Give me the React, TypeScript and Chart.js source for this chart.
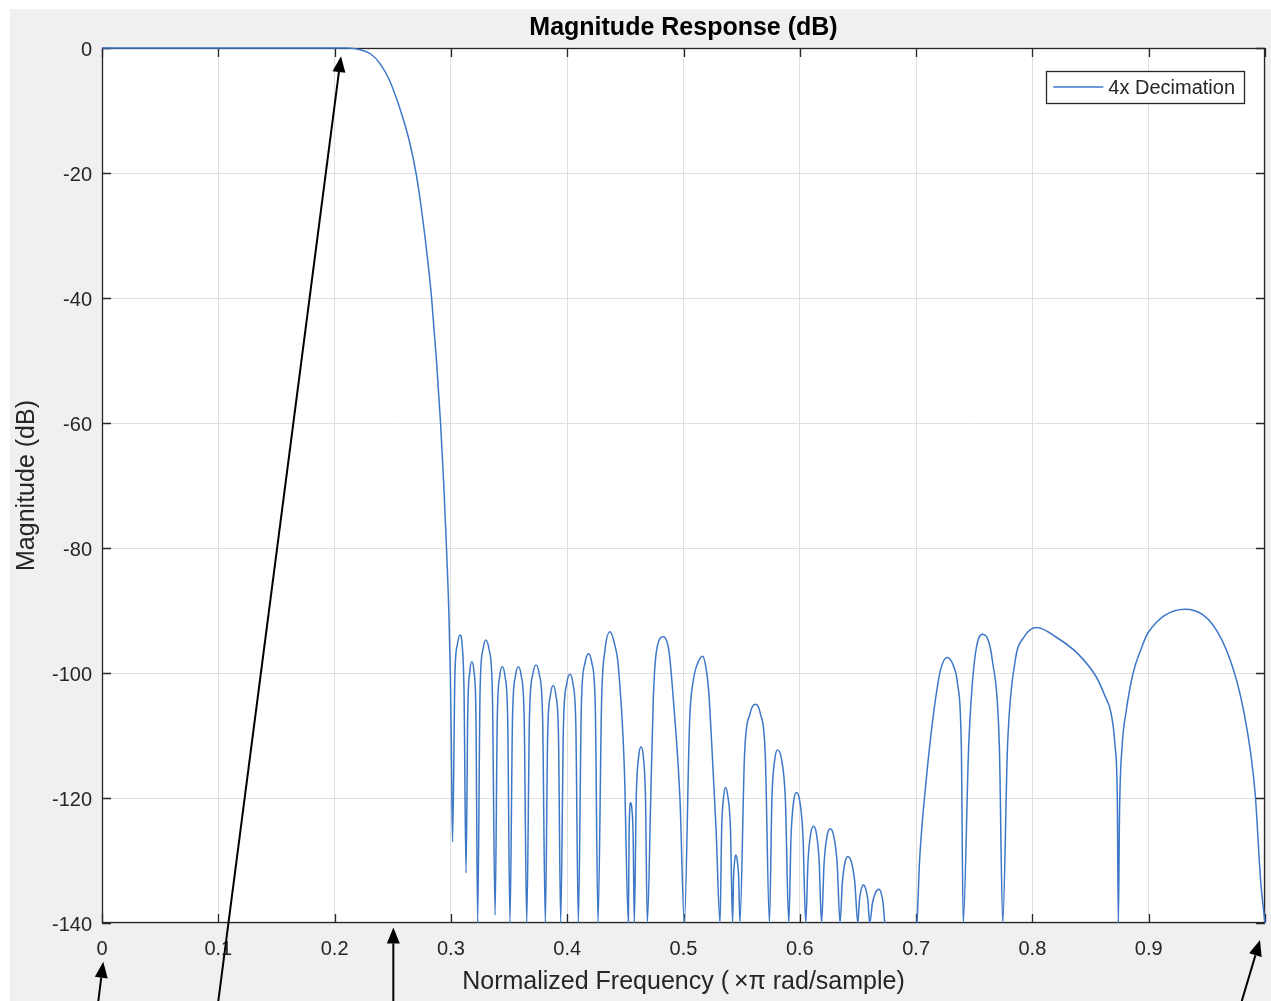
import React, { useEffect, useRef } from 'react';
import { Chart, registerables } from 'chart.js';

Chart.register(...registerables);

// ---------- data ----------
// normalized frequency (x pi rad/sample)
const freq: number[] = [
  // passband + transition
  0, 0.1, 0.2, 0.21, 0.2175, 0.2313, 0.239, 0.2468, 0.2567, 0.2644, 0.27, 0.2741, 0.2776, 0.2807, 0.2834, 0.2876, 0.2911, 0.2939, 0.2962, 0.2982, 0.2995, 0.3003, 0.3014,
  // stopband lobes
  0.3035, 0.3056, 0.3078, 0.3096, 0.3113, 0.313,
  0.3145, 0.3163, 0.318, 0.3198, 0.3215, 0.323,
  0.3251, 0.3276, 0.33, 0.3328, 0.3356, 0.338,
  0.3399, 0.342, 0.3442, 0.3465, 0.3488, 0.3508,
  0.353, 0.3555, 0.358, 0.3605, 0.363, 0.3652,
  0.3676, 0.3704, 0.3732, 0.376, 0.3788, 0.3812,
  0.3832, 0.3856, 0.388, 0.3902, 0.3925, 0.3944,
  0.3968, 0.3996, 0.4024, 0.4049, 0.4074, 0.4096,
  0.4122, 0.4153, 0.4184, 0.4212, 0.4241, 0.4265,
  0.4296, 0.4325, 0.4368, 0.4405, 0.444, 0.4491, 0.4526,
  0.4532, 0.4538, 0.4545, 0.4556, 0.4567, 0.4577,
  0.4594, 0.4615, 0.4635, 0.4654, 0.4673, 0.4689,
  0.4718, 0.474, 0.4769, 0.4827, 0.4875, 0.4913, 0.497, 0.5007,
  0.5053, 0.5085, 0.5125, 0.5164, 0.519, 0.5215, 0.5244, 0.528, 0.5314,
  0.5328, 0.5345, 0.5361, 0.5382, 0.5404, 0.5422,
  0.543, 0.544, 0.545, 0.5462, 0.5475, 0.5485,
  0.5525, 0.5572, 0.5619, 0.5661, 0.5703, 0.5739,
  0.576, 0.5785, 0.5809, 0.5843, 0.5876, 0.5905,
  0.5925, 0.5948, 0.5971, 0.5999, 0.6027, 0.6051,
  0.6071, 0.6095, 0.6118, 0.6142, 0.6166, 0.6187,
  0.6209, 0.6235, 0.6261, 0.6291, 0.6321, 0.6346,
  0.6366, 0.639, 0.6413, 0.6443, 0.6473, 0.6499,
  0.6513, 0.653, 0.6547, 0.6566, 0.6585, 0.6601,
  0.6625, 0.6652, 0.668, 0.6698, 0.6716, 0.6731,
  0.687,
  0.7007, 0.703, 0.7087, 0.715, 0.721, 0.7268, 0.732, 0.7357, 0.7389, 0.7405,
  0.7452, 0.75, 0.757, 0.7659, 0.7716, 0.7745,
  0.7786, 0.7849, 0.7929, 0.804, 0.8199, 0.839, 0.8548, 0.862, 0.8676, 0.871, 0.873, 0.8739,
  0.8749, 0.8771, 0.8804, 0.8866, 0.8938, 0.8993, 0.9311, 0.9629, 0.982, 0.9915, 0.9962, 1.0,
];

// magnitude (dB)
const magDb: number[] = [
  0, 0, 0, 0, -0.1, -1.0, -2.5, -5.0, -10.0, -15.0, -20.0, -25.0, -30.0, -35.0, -40.0, -50.0, -60.0, -70.0, -80.0, -90.0, -100.0, -110.0, -127.0,
  -100.0, -95.4, -93.9, -95.4, -103.0, -132.0,
  -106.2, -99.7, -98.2, -99.7, -106.2, -140,
  -102.7, -96.2, -94.7, -96.2, -102.7, -138.7,
  -107.0, -100.5, -99.0, -100.5, -107.0, -140,
  -107.0, -100.5, -99.0, -100.5, -107.0, -140,
  -106.7, -100.2, -98.7, -100.2, -106.7, -140,
  -110.0, -103.5, -102.0, -103.5, -110.0, -140,
  -108.2, -101.7, -100.2, -101.7, -108.2, -140,
  -104.9, -98.4, -96.9, -98.4, -104.9, -140,
  -104.3, -96.3, -93.4, -95.2, -99.0, -115.0, -140,
  -126.0, -121.7, -120.7, -121.7, -126.0, -140,
  -119.8, -113.3, -111.8, -113.3, -119.8, -140,
  -120.3, -104.3, -96.3, -94.2, -96.5, -104.3, -120.3, -140,
  -107.5, -101.1, -98.3, -97.3, -98.8, -102.5, -111.8, -125.0, -140,
  -125.0, -119.8, -118.3, -119.8, -125.0, -140,
  -133.0, -130.0, -129.1, -130.0, -133.0, -140,
  -113.0, -106.5, -105.0, -106.5, -113.0, -140,
  -120.3, -113.8, -112.3, -113.8, -120.3, -140,
  -126.0, -120.4, -119.1, -120.4, -126.0, -140,
  -130.0, -125.6, -124.5, -125.6, -130.0, -140,
  -130.4, -126.0, -124.9, -126.0, -130.4, -140,
  -133.5, -130.2, -129.4, -130.2, -133.5, -140,
  -136.3, -134.5, -133.9, -134.5, -136.3, -140,
  -136.8, -135.1, -134.6, -135.1, -136.8, -140,
  -150,
  -140, -130.0, -117.1, -106.5, -99.5, -97.5, -98.8, -101.8, -111.8, -140,
  -111.8, -98.4, -93.8, -98.4, -111.8, -140,
  -111.8, -98.4, -94.2, -92.7, -94.2, -96.9, -100.6, -103.5, -106.4, -111.5, -120.0, -140,
  -122.4, -111.8, -106.4, -100.0, -96.0, -93.6, -89.8, -94.7, -106.4, -119.2, -133.1, -140,
];

const xTickValues: number[] = [0, 0.1, 0.2, 0.3, 0.4, 0.5, 0.6, 0.7, 0.8, 0.9, 1.0];
const xTickLabels: string[] = ['0', '0.1', '0.2', '0.3', '0.4', '0.5', '0.6', '0.7', '0.8', '0.9', ''];
const yTickValues: number[] = [-140, -120, -100, -80, -60, -40, -20, 0];
const yTickLabels: string[] = ['-140', '-120', '-100', '-80', '-60', '-40', '-20', '0'];

const chartTitle = 'Magnitude Response (dB)';
const xAxisLabel = 'Normalized Frequency (\u2009\u00D7\u03C0 rad/sample)';
const yAxisLabel = 'Magnitude (dB)';
const seriesName = '4x Decimation';

// annotation arrows, in data units [freq, dB] (tails below the axis)
const arrowTails: [number, number][] = [[-0.0032, -152.5], [0.1, -152.5], [0.2505, -152.5], [0.98, -152.5]];
const arrowTips: [number, number][] = [[0.0011, -146.2], [0.2055, -1.3], [0.2505, -140.7], [0.9957, -142.7]];

const FONT = '"Liberation Sans", Arial, Helvetica, sans-serif';
const AXIS_COLOR = '#262626';
const LINE_COLOR = '#3d78c8';

const figurePlugin = {
  id: 'figurePlugin',
  beforeDraw(chart: any) {
    const { ctx, chartArea: ca, width, height } = chart;
    ctx.save();
    ctx.fillStyle = '#f0f0f0';
    ctx.fillRect(0, 0, width, height);
    ctx.fillStyle = '#ffffff';
    ctx.fillRect(ca.left, ca.top, ca.right - ca.left, ca.bottom - ca.top);
    ctx.restore();
  },
  beforeDatasetsDraw(chart: any) {
    const { ctx, chartArea: ca, scales } = chart;
    const tl = 9;
    ctx.save();
    ctx.strokeStyle = AXIS_COLOR;
    ctx.lineWidth = 1.3;
    ctx.strokeRect(ca.left + 0.5, ca.top + 0.5, ca.right - ca.left - 1, ca.bottom - ca.top - 1);
    ctx.beginPath();
    xTickValues.forEach((v) => {
      const px = Math.round(scales.x.getPixelForValue(v)) + 0.5;
      ctx.moveTo(px, ca.bottom);
      ctx.lineTo(px, ca.bottom - tl);
      ctx.moveTo(px, ca.top);
      ctx.lineTo(px, ca.top + tl);
    });
    yTickValues.forEach((v) => {
      const py = Math.round(scales.y.getPixelForValue(v)) + 0.5;
      ctx.moveTo(ca.left, py);
      ctx.lineTo(ca.left + tl, py);
      ctx.moveTo(ca.right, py);
      ctx.lineTo(ca.right - tl, py);
    });
    ctx.stroke();
    ctx.restore();
  },
  afterDraw(chart: any) {
    const { ctx, chartArea: ca, scales } = chart;
    ctx.save();
    // title
    ctx.fillStyle = '#000000';
    ctx.font = `bold 25px ${FONT}`;
    ctx.textAlign = 'center';
    ctx.textBaseline = 'middle';
    ctx.fillText(chartTitle, (ca.left + ca.right) / 2, ca.top - 20);

    // legend
    ctx.font = `20px ${FONT}`;
    const tw = ctx.measureText(seriesName).width;
    const bw = 7 + 50 + 5 + tw + 9;
    const bh = 32;
    const bx = ca.right - 21 - bw;
    const by = ca.top + 23;
    ctx.fillStyle = '#ffffff';
    ctx.fillRect(bx, by, bw, bh);
    ctx.strokeStyle = AXIS_COLOR;
    ctx.lineWidth = 1.3;
    ctx.strokeRect(Math.round(bx) + 0.5, by + 0.5, Math.round(bw), bh);
    ctx.strokeStyle = LINE_COLOR;
    ctx.lineWidth = 1.5;
    ctx.beginPath();
    ctx.moveTo(bx + 7, by + bh / 2);
    ctx.lineTo(bx + 57, by + bh / 2);
    ctx.stroke();
    ctx.fillStyle = AXIS_COLOR;
    ctx.textAlign = 'left';
    ctx.textBaseline = 'middle';
    ctx.fillText(seriesName, bx + 62, by + bh / 2 + 1);

    // arrows
    ctx.strokeStyle = '#000000';
    ctx.fillStyle = '#000000';
    ctx.lineWidth = 2;
    arrowTails.forEach((t, i) => {
      const tip = arrowTips[i];
      const x0 = scales.x.getPixelForValue(t[0]);
      const y0 = scales.y.getPixelForValue(t[1]);
      const x1 = scales.x.getPixelForValue(tip[0]);
      const y1 = scales.y.getPixelForValue(tip[1]);
      const ang = Math.atan2(y1 - y0, x1 - x0);
      const hl = 16;
      const hw = 6.5;
      const bxp = x1 - hl * Math.cos(ang);
      const byp = y1 - hl * Math.sin(ang);
      ctx.beginPath();
      ctx.moveTo(x0, y0);
      ctx.lineTo(bxp, byp);
      ctx.stroke();
      ctx.beginPath();
      ctx.moveTo(x1, y1);
      ctx.lineTo(bxp + hw * Math.sin(ang), byp - hw * Math.cos(ang));
      ctx.lineTo(bxp - hw * Math.sin(ang), byp + hw * Math.cos(ang));
      ctx.closePath();
      ctx.fill();
    });
    ctx.restore();
  },
};

export default function App() {
  const canvasRef = useRef<HTMLCanvasElement | null>(null);

  useEffect(() => {
    if (!canvasRef.current) return;
    const points = freq.map((f, i) => ({ x: f, y: magDb[i] }));
    const chart = new Chart(canvasRef.current, {
      type: 'line',
      data: {
        datasets: [
          {
            label: seriesName,
            data: points,
            borderColor: LINE_COLOR,
            borderWidth: 1.5,
            pointRadius: 0,
            fill: false,
            cubicInterpolationMode: 'monotone',
            clip: { left: 0, right: 2, top: 2, bottom: 0 } as any,
          },
        ],
      },
      options: {
        animation: false,
        responsive: false,
        devicePixelRatio: 1,
        events: [],
        layout: { padding: { top: 39, right: 6, left: 0, bottom: 0 } },
        plugins: {
          legend: { display: false },
          tooltip: { enabled: false },
          title: { display: false },
        },
        scales: {
          x: {
            type: 'linear',
            min: 0,
            max: 1,
            afterBuildTicks: (s: any) => {
              s.ticks = xTickValues.map((v) => ({ value: v }));
            },
            afterFit: (s: any) => {
              s.height = 78;
              s.paddingLeft = 0;
              s.paddingRight = 0;
            },
            ticks: {
              callback: (_v: any, i: number) => xTickLabels[i],
              color: AXIS_COLOR,
              font: { family: FONT, size: 20 },
              padding: 14,
              maxRotation: 0,
              autoSkip: false,
            },
            grid: { color: '#dfdfdf', lineWidth: 1, drawTicks: false },
            border: { display: false },
            title: {
              display: true,
              text: xAxisLabel,
              color: AXIS_COLOR,
              font: { family: FONT, size: 25 },
              padding: { top: 0, bottom: 4 },
            },
          },
          y: {
            type: 'linear',
            min: -140,
            max: 0,
            afterBuildTicks: (s: any) => {
              s.ticks = yTickValues.map((v) => ({ value: v }));
            },
            afterFit: (s: any) => {
              s.width = 92;
              s.paddingTop = 0;
              s.paddingBottom = 0;
            },
            ticks: {
              callback: (_v: any, i: number) => yTickLabels[i],
              color: AXIS_COLOR,
              font: { family: FONT, size: 20 },
              padding: 10,
              labelOffset: 2,
              autoSkip: false,
            },
            grid: { color: '#dfdfdf', lineWidth: 1, drawTicks: false },
            border: { display: false },
            title: {
              display: true,
              text: yAxisLabel,
              color: AXIS_COLOR,
              font: { family: FONT, size: 25 },
              padding: { top: 2, bottom: 0 },
            },
          },
        },
      },
      plugins: [figurePlugin],
    });
    return () => chart.destroy();
  }, []);

  return (
    <canvas
      ref={canvasRef}
      width={1261}
      height={992}
      style={{ position: 'fixed', left: 10, top: 9, width: 1261, height: 992, display: 'block' }}
    />
  );
}
